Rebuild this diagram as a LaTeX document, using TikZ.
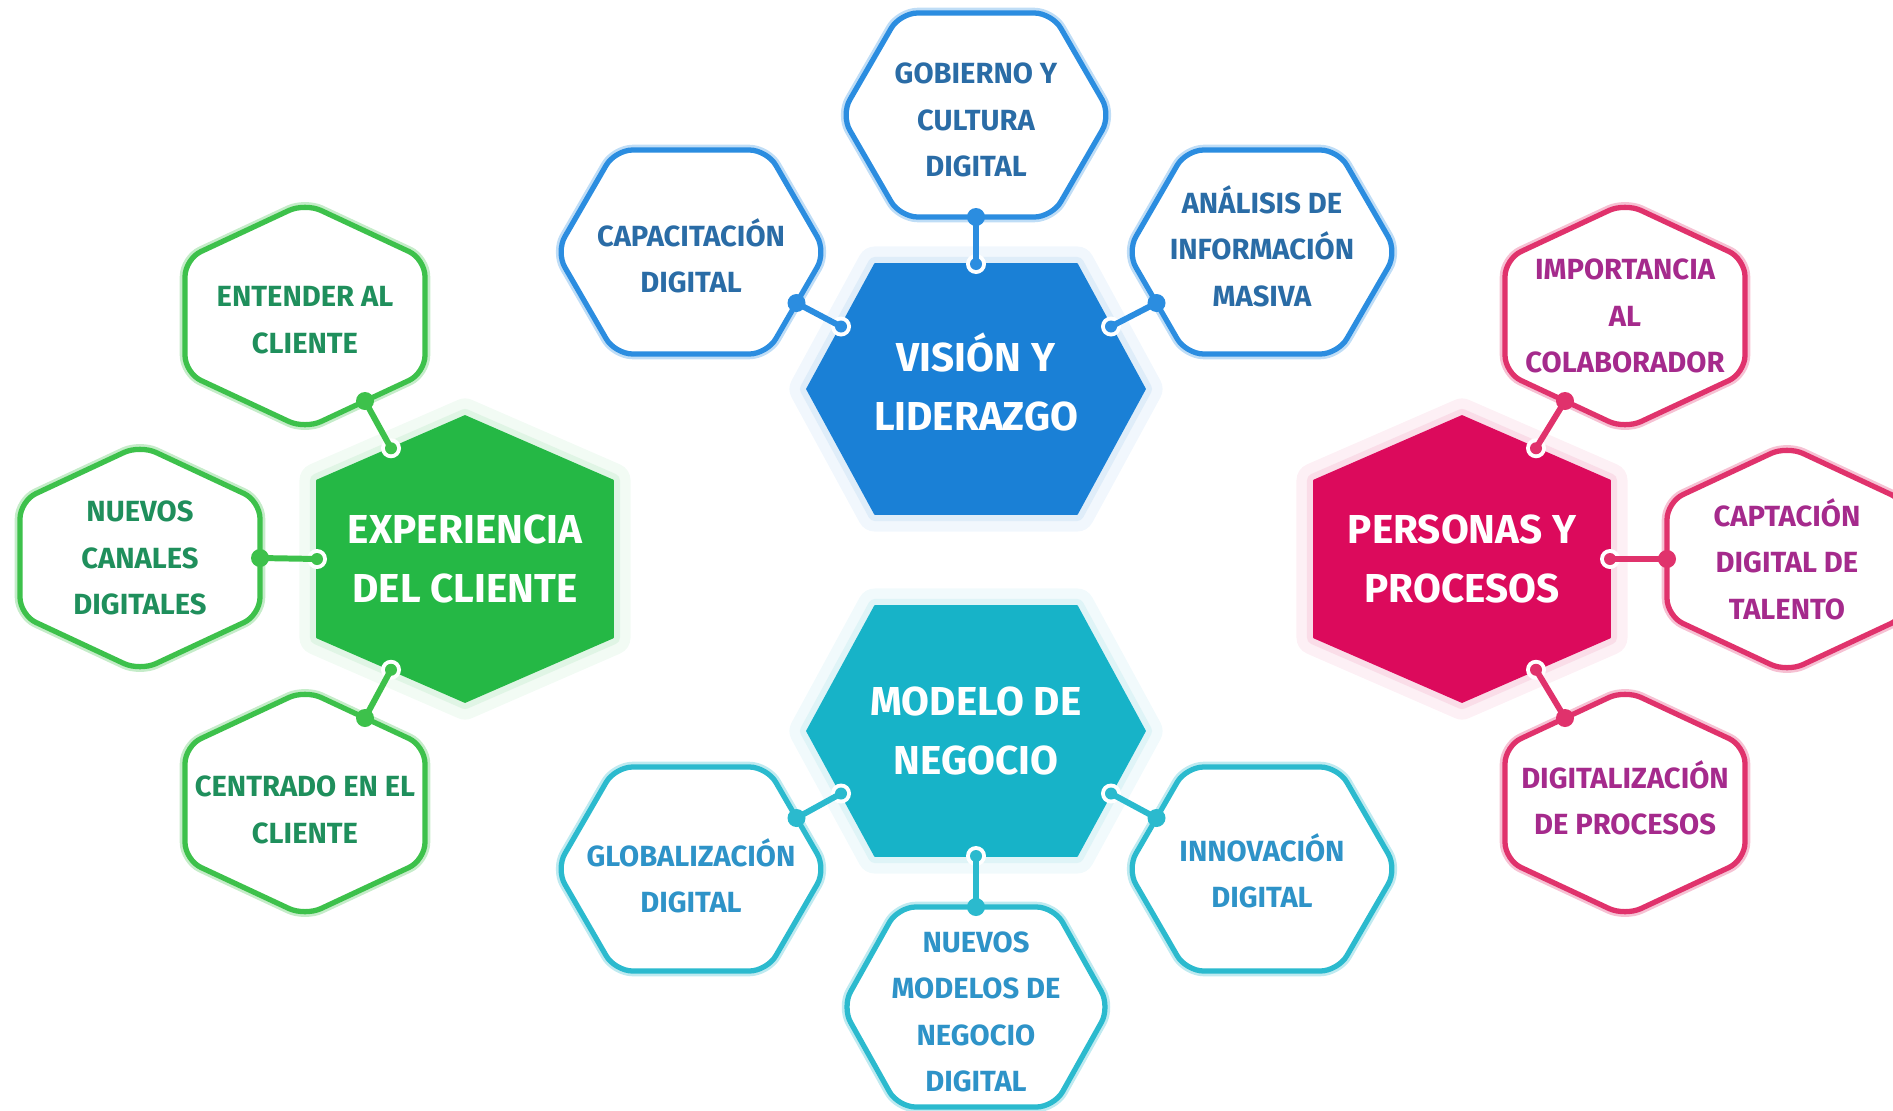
\documentclass[tikz,border=0pt]{standalone}
\usepackage{fontspec}
\setmainfont{Fira Sans}
\usepackage{tikz}
\usetikzlibrary{calc}

\definecolor{visfill}{HTML}{1A80D6}
\definecolor{visline}{HTML}{2B8DE0}
\definecolor{vistext}{HTML}{2A6CA6}
\definecolor{modfill}{HTML}{17B3C8}
\definecolor{modline}{HTML}{2BBACE}
\definecolor{modtext}{HTML}{2E93C8}
\definecolor{expfill}{HTML}{25B845}
\definecolor{expline}{HTML}{3DC14B}
\definecolor{exptext}{HTML}{1F8F5C}
\definecolor{perfill}{HTML}{DC0A5C}
\definecolor{perline}{HTML}{E0326C}
\definecolor{pertext}{HTML}{A52A8C}

% flat hexagon: style, name, centre, half width, half top edge, half height
\newcommand{\flathex}[6]{%
  \coordinate (#2-o) at (#3);
  \draw[#1] ($(#2-o)+(-#4,0)$) coordinate (#2-w)
    -- ($(#2-o)+(-#5,#6)$) coordinate (#2-nw)
    -- ($(#2-o)+(#5,#6)$) coordinate (#2-ne)
    -- ($(#2-o)+(#4,0)$) coordinate (#2-e)
    -- ($(#2-o)+(#5,-#6)$) coordinate (#2-se)
    -- ($(#2-o)+(-#5,-#6)$) coordinate (#2-sw)
    -- cycle;}
% pointed hexagon: style, name, centre, half width, half side, half height
\newcommand{\pointhex}[6]{%
  \coordinate (#2-o) at (#3);
  \draw[#1] ($(#2-o)+(0,#6)$) coordinate (#2-n)
    -- ($(#2-o)+(-#4,#5)$) coordinate (#2-nw)
    -- ($(#2-o)+(-#4,-#5)$) coordinate (#2-sw)
    -- ($(#2-o)+(0,-#6)$) coordinate (#2-s)
    -- ($(#2-o)+(#4,-#5)$) coordinate (#2-se)
    -- ($(#2-o)+(#4,#5)$) coordinate (#2-ne)
    -- cycle;}
% link: colour, outer end, centre end
\newcommand{\hexlink}[3]{%
  \fill[white] (#3) circle (0.1);
  \draw[#1, line width=1.7pt] (#2) -- (#3);
  \fill[#1] (#2) circle (0.09);
  \fill[#1] (#3) circle (0.06);}

\begin{document}
\begin{tikzpicture}[
    centre hex/.style={fill=#1, draw=#1, line width=0.5pt, line join=round,
      preaction={draw=#1!6, line width=10pt, line join=round},
      preaction={draw=#1!14, line width=4pt, line join=round}},
    side hex/.style={draw=#1, fill=white, line width=1.5pt, rounded corners=5pt,
      preaction={draw=#1!30, line width=3pt}},
    centre text/.style={text=white, font=\bfseries\fontsize{11.5}{17}\selectfont,
      align=center, inner sep=0pt},
    side text/.style={text=#1, font=\bfseries\fontsize{8.3}{13.2}\selectfont,
      align=center, inner sep=0pt}
  ]
  \useasboundingbox (0,0) rectangle (18.93,11.10);

  \flathex{centre hex=visfill}{vis}{9.76,7.21}{1.69}{1.01}{1.25}
  \flathex{centre hex=modfill}{mod}{9.76,3.79}{1.69}{1.01}{1.25}
  \pointhex{centre hex=expfill}{exp}{4.65,5.51}{1.48}{0.785}{1.43}
  \pointhex{centre hex=perfill}{per}{14.62,5.51}{1.48}{0.785}{1.43}

  \flathex{side hex=visline}{gob}{9.76,9.95}{1.35}{0.76}{1.02}
  \flathex{side hex=visline}{cap}{6.91,8.58}{1.35}{0.76}{1.02}
  \flathex{side hex=visline}{ana}{12.62,8.58}{1.35}{0.76}{1.02}
  \flathex{side hex=modline}{glo}{6.91,2.41}{1.35}{0.76}{1.02}
  \flathex{side hex=modline}{inn}{12.62,2.41}{1.35}{0.76}{1.02}
  \flathex{side hex=modline}{nue}{9.76,1.03}{1.34}{0.78}{1.0}

  \pointhex{side hex=expline}{ent}{3.05,7.94}{1.20}{0.57}{1.13}
  \pointhex{side hex=expline}{can}{1.40,5.52}{1.20}{0.57}{1.13}
  \pointhex{side hex=expline}{cen}{3.05,3.07}{1.20}{0.57}{1.13}
  \pointhex{side hex=perline}{imp}{16.25,7.94}{1.20}{0.57}{1.13}
  \pointhex{side hex=perline}{tal}{17.87,5.51}{1.20}{0.57}{1.13}
  \pointhex{side hex=perline}{dig}{16.25,3.07}{1.20}{0.57}{1.13}

  \coordinate (gob-1) at ($(gob-sw)!.5!(gob-se)$);
  \coordinate (vis-1) at ($(vis-nw)!.5!(vis-ne)$);
  \coordinate (cap-1) at ($(cap-e)!.5!(cap-se)$);
  \coordinate (vis-2) at ($(vis-w)!.5!(vis-nw)$);
  \coordinate (ana-1) at ($(ana-w)!.5!(ana-sw)$);
  \coordinate (vis-3) at ($(vis-e)!.5!(vis-ne)$);
  \coordinate (glo-1) at ($(glo-e)!.5!(glo-ne)$);
  \coordinate (mod-1) at ($(mod-w)!.5!(mod-sw)$);
  \coordinate (inn-1) at ($(inn-w)!.5!(inn-nw)$);
  \coordinate (mod-2) at ($(mod-e)!.5!(mod-se)$);
  \coordinate (nue-1) at ($(nue-nw)!.5!(nue-ne)$);
  \coordinate (mod-3) at ($(mod-sw)!.5!(mod-se)$);
  \coordinate (ent-1) at ($(ent-s)!.5!(ent-se)$);
  \coordinate (exp-1) at ($(exp-n)!.5!(exp-nw)$);
  \coordinate (can-1) at ($(can-ne)!.5!(can-se)$);
  \coordinate (exp-2) at ($(exp-nw)!.5!(exp-sw)$);
  \coordinate (cen-1) at ($(cen-n)!.5!(cen-ne)$);
  \coordinate (exp-3) at ($(exp-s)!.5!(exp-sw)$);
  \coordinate (imp-1) at ($(imp-s)!.5!(imp-sw)$);
  \coordinate (per-1) at ($(per-n)!.5!(per-ne)$);
  \coordinate (tal-1) at ($(tal-nw)!.5!(tal-sw)$);
  \coordinate (per-2) at ($(per-ne)!.5!(per-se)$);
  \coordinate (dig-1) at ($(dig-n)!.5!(dig-nw)$);
  \coordinate (per-3) at ($(per-s)!.5!(per-se)$);

  \hexlink{visline}{gob-1}{vis-1}
  \hexlink{visline}{cap-1}{vis-2}
  \hexlink{visline}{ana-1}{vis-3}
  \hexlink{modline}{glo-1}{mod-1}
  \hexlink{modline}{inn-1}{mod-2}
  \hexlink{modline}{nue-1}{mod-3}
  \hexlink{expline}{ent-1}{exp-1}
  \hexlink{expline}{can-1}{exp-2}
  \hexlink{expline}{cen-1}{exp-3}
  \hexlink{perline}{imp-1}{per-1}
  \hexlink{perline}{tal-1}{per-2}
  \hexlink{perline}{dig-1}{per-3}

  \node[centre text] (vis) at ([yshift=0.07cm]vis-o) {VISIÓN Y\\LIDERAZGO};
  \node[centre text] (mod) at (mod-o) {MODELO DE\\NEGOCIO};
  \node[centre text] (exp) at (exp-o) {EXPERIENCIA\\DEL CLIENTE};
  \node[centre text] (per) at (per-o) {PERSONAS Y\\PROCESOS};

  \node[side text=vistext] (gob) at ([yshift=-0.05cm]gob-o) {GOBIERNO Y\\CULTURA\\DIGITAL};
  \node[side text=vistext] (cap) at ([yshift=-0.04cm]cap-o) {CAPACITACIÓN\\DIGITAL};
  \node[side text=vistext] (ana) at ([yshift=0.06cm]ana-o) {ANÁLISIS DE\\INFORMACIÓN\\MASIVA};
  \node[side text=modtext] (glo) at ([yshift=-0.07cm]glo-o) {GLOBALIZACIÓN\\DIGITAL};
  \node[side text=modtext] (inn) at ([yshift=-0.02cm]inn-o) {INNOVACIÓN\\DIGITAL};
  \node[side text=modtext] (nue) at ([yshift=-0.05cm]nue-o) {NUEVOS\\MODELOS DE\\NEGOCIO\\DIGITAL};
  \node[side text=exptext] (ent) at ([yshift=-0.04cm]ent-o) {ENTENDER AL\\CLIENTE};
  \node[side text=exptext] (can) at (can-o) {NUEVOS\\CANALES\\DIGITALES};
  \node[side text=exptext] (cen) at ([yshift=-0.07cm]cen-o) {CENTRADO EN EL\\CLIENTE};
  \node[side text=pertext] (imp) at (imp-o) {IMPORTANCIA\\AL\\COLABORADOR};
  \node[side text=pertext] (tal) at (tal-o) {CAPTACIÓN\\DIGITAL DE\\TALENTO};
  \node[side text=pertext] (dig) at ([yshift=0.05cm]dig-o) {DIGITALIZACIÓN\\DE PROCESOS};
\end{tikzpicture}
\end{document}
